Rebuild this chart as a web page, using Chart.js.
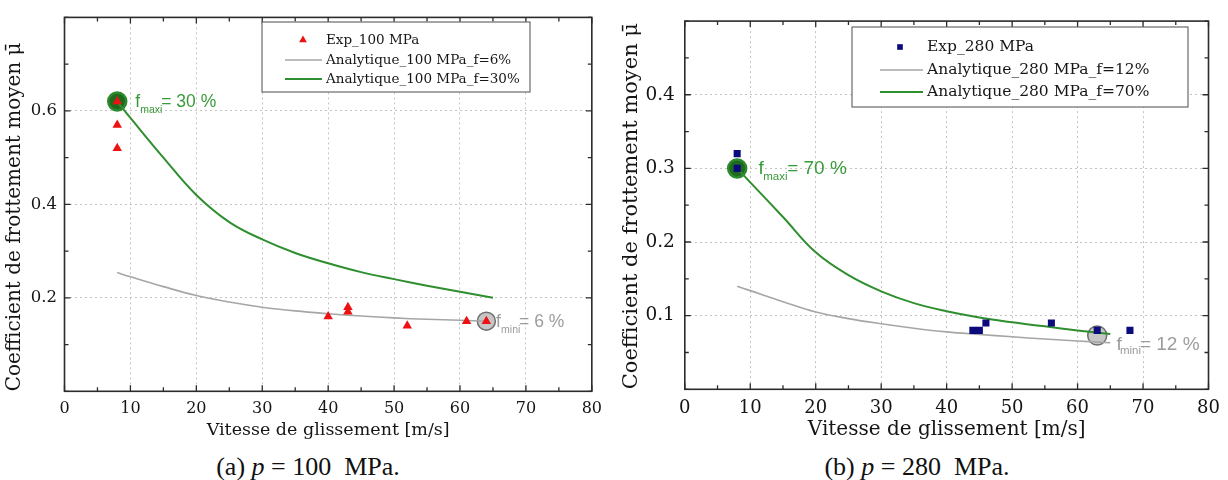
<!DOCTYPE html>
<html>
<head>
<meta charset="utf-8">
<script src="https://cdn.jsdelivr.net/npm/chart.js@4.4.1/dist/chart.umd.min.js"></script>
<style>
html,body{margin:0;padding:0;background:#fff;}
body{width:1228px;height:480px;position:relative;overflow:hidden;}
canvas{position:absolute;top:0;}
#cA{left:0;}
#cB{left:612px;}
.cap{position:absolute;top:452px;transform:translateX(-50%);font-family:'Liberation Serif','DejaVu Serif',serif;font-size:26px;color:#111;white-space:nowrap;line-height:30px;}
.cap i{font-style:italic;}
</style>
</head>
<body>
<canvas id="cA" width="610" height="450"></canvas>
<canvas id="cB" width="616" height="450"></canvas>
<div class="cap" style="left:308px">(a) <i>p</i>&nbsp;=&nbsp;100&nbsp; MPa.</div>
<div class="cap" style="left:917px">(b) <i>p</i>&nbsp;=&nbsp;280&nbsp; MPa.</div>
<script>
// ---------- Panel (a) : p = 100 MPa ----------
const speedExp100 = [8, 8, 8, 40, 43, 43, 52, 61, 64];
const muExp100    = [0.62, 0.57, 0.52, 0.16, 0.18, 0.17, 0.14, 0.15, 0.15];
const speedAna100f6  = [8, 10, 15, 20, 25, 30, 35, 40, 45, 50, 55, 60, 64];
const muAna100f6     = [0.254, 0.245, 0.224, 0.205, 0.191, 0.180, 0.172, 0.166, 0.161, 0.157, 0.154, 0.152, 0.150];
const speedAna100f30 = [8, 10, 15, 20, 25, 30, 35, 40, 45, 50, 55, 60, 65];
const muAna100f30    = [0.620, 0.585, 0.500, 0.420, 0.362, 0.325, 0.296, 0.274, 0.255, 0.240, 0.226, 0.213, 0.200];
const labels100 = ['Exp_100 MPa', 'Analytique_100 MPa_f=6%', 'Analytique_100 MPa_f=30%'];
const yTickLabels100 = [0.2, 0.4, 0.6];
const fMarks100 = [{x: 8, y: 0.62, kind: 'maxi', text: '= 30 %'}, {x: 64, y: 0.15, kind: 'mini', text: '= 6 %'}];

// ---------- Panel (b) : p = 280 MPa ----------
const speedExp280 = [8, 8, 44, 45, 46, 56, 63, 68];
const muExp280    = [0.32, 0.30, 0.08, 0.08, 0.09, 0.09, 0.08, 0.08];
const speedAna280f12 = [8, 10, 15, 20, 25, 30, 35, 40, 45, 50, 55, 60, 65];
const muAna280f12    = [0.140, 0.134, 0.119, 0.105, 0.096, 0.089, 0.083, 0.078, 0.0745, 0.0713, 0.0683, 0.0656, 0.0633];
const speedAna280f70 = [8, 10, 15, 20, 25, 30, 35, 40, 45, 50, 55, 60, 65];
const muAna280f70    = [0.300, 0.281, 0.234, 0.186, 0.155, 0.133, 0.117, 0.106, 0.0975, 0.091, 0.0855, 0.080, 0.075];
const labels280 = ['Exp_280 MPa', 'Analytique_280 MPa_f=12%', 'Analytique_280 MPa_f=70%'];
const yTickLabels280 = [0.1, 0.2, 0.3, 0.4];
const fMarks280 = [{x: 8, y: 0.30, kind: 'maxi', text: '= 70 %'}, {x: 63, y: 0.073, kind: 'mini', text: '= 12 %'}];

// ---------- shared axes ----------
const xTickLabels = [0, 10, 20, 30, 40, 50, 60, 70, 80];
const xGridValues = [10, 20, 30, 40, 50, 60, 70];
const xTitle = 'Vitesse de glissement [m/s]';
const yTitle = 'Coefficient de frottement moyen \u03BC\u0304';

const GREEN = '#2f8f2f', GREY = '#a6a6a6';
const near = (arr, v) => arr.some(a => Math.abs(a - v) < 1e-7);
const pts = (xs, ys) => xs.map((x, i) => ({x, y: ys[i]}));

// frame with inward ticks on all four sides
const frameTicks = {
  id: 'frameTicks',
  afterDatasetsDraw(chart, args, o) {
    const {ctx, chartArea: a, scales: {x, y}} = chart;
    ctx.save();
    ctx.strokeStyle = '#2b2b2b';
    ctx.lineWidth = 1.3;
    x.ticks.forEach(t => {
      const px = x.getPixelForValue(t.value);
      const L = (Math.abs(t.value % 10) < 1e-7) ? 6 : 4;
      ctx.beginPath();
      ctx.moveTo(px, a.bottom); ctx.lineTo(px, a.bottom - L);
      ctx.moveTo(px, a.top); ctx.lineTo(px, a.top + L);
      ctx.stroke();
    });
    y.ticks.forEach(t => {
      const py = y.getPixelForValue(t.value);
      const L = near(o.majorY, t.value) ? 6 : 4;
      ctx.beginPath();
      ctx.moveTo(a.left, py); ctx.lineTo(a.left + L, py);
      ctx.moveTo(a.right, py); ctx.lineTo(a.right - L, py);
      ctx.stroke();
    });
    ctx.lineWidth = 1.6;
    ctx.strokeRect(a.left, a.top, a.right - a.left, a.bottom - a.top);
    ctx.restore();
  }
};

// f_maxi / f_mini circles (under the data) and labels
const fMarks = {
  id: 'fMarks',
  beforeDatasetsDraw(chart, args, o) {
    const {ctx, scales: {x, y}} = chart;
    ctx.save();
    o.marks.forEach(m => {
      const px = x.getPixelForValue(m.x), py = y.getPixelForValue(m.y);
      const st = o[m.kind];
      ctx.beginPath();
      ctx.arc(px, py, st.r, 0, Math.PI * 2);
      ctx.fillStyle = st.fill; ctx.fill();
      ctx.lineWidth = st.lw; ctx.strokeStyle = st.stroke; ctx.stroke();
    });
    ctx.restore();
  },
  afterDatasetsDraw(chart, args, o) {
    const {ctx, scales: {x, y}} = chart;
    ctx.save();
    ctx.textBaseline = 'middle';
    ctx.textAlign = 'left';
    o.marks.forEach(m => {
      const px = x.getPixelForValue(m.x), py = y.getPixelForValue(m.y);
      const st = o[m.kind];
      ctx.fillStyle = st.color;
      ctx.font = st.size + 'px "Liberation Sans", Arial, sans-serif';
      ctx.fillText('f', px + st.fDx, py + st.dy);
      ctx.fillText(m.text, px + st.restDx, py + st.dy);
      ctx.font = st.subSize + 'px "Liberation Sans", Arial, sans-serif';
      ctx.fillText(m.kind, px + st.subDx, py + st.subDy);
    });
    ctx.restore();
  }
};

// boxed legend inside the plot
const boxLegend = {
  id: 'boxLegend',
  afterDraw(chart, args, o) {
    const ctx = chart.ctx;
    ctx.save();
    ctx.fillStyle = '#fff';
    ctx.fillRect(o.x, o.y, o.w, o.h);
    ctx.strokeStyle = '#6a6a6a'; ctx.lineWidth = 1.2;
    ctx.strokeRect(o.x, o.y, o.w, o.h);
    chart.data.datasets.forEach((ds, i) => {
      const cy = o.rows[i];
      if (ds.showLine) {
        ctx.strokeStyle = ds.borderColor; ctx.lineWidth = ds.borderWidth;
        ctx.beginPath(); ctx.moveTo(o.lineX1, cy); ctx.lineTo(o.lineX2, cy); ctx.stroke();
      } else {
        ctx.fillStyle = ds.backgroundColor;
        Chart.helpers.drawPoint(ctx, {pointStyle: ds.pointStyle, radius: o.markerR, borderWidth: 0, rotation: 0}, o.markerX, cy);
      }
      ctx.fillStyle = '#161616';
      ctx.font = o.font;
      ctx.textBaseline = 'middle';
      ctx.fillText(ds.label, o.textX, cy);
    });
    ctx.restore();
  }
};

function makeChart(id, c) {
  return new Chart(document.getElementById(id), {
    type: 'scatter',
    data: {
      datasets: [
        {label: c.labels[0], data: pts(c.ex, c.ey), showLine: false, pointStyle: c.expStyle,
         pointRadius: c.expR, backgroundColor: c.expColor, borderColor: c.expColor, borderWidth: 0},
        {label: c.labels[1], data: pts(c.lx, c.ly), showLine: true, pointRadius: 0, borderColor: GREY,
         borderWidth: 1.6, tension: 0.4, fill: false},
        {label: c.labels[2], data: pts(c.hx, c.hy), showLine: true, pointRadius: 0, borderColor: GREEN,
         borderWidth: 2, tension: 0.4, fill: false}
      ]
    },
    options: {
      responsive: false, animation: false, devicePixelRatio: 1,
      layout: {padding: {left: 0, top: c.padTop, right: c.padRight, bottom: 0}, autoPadding: false},
      plugins: {
        legend: {display: false}, tooltip: {enabled: false},
        frameTicks: {majorY: c.majorY},
        fMarks: c.marks,
        boxLegend: c.legend
      },
      scales: {
        x: {
          type: 'linear', min: 0, max: 80,
          ticks: {stepSize: 5, autoSkip: false, maxRotation: 0, padding: c.xTickPad, color: '#151515',
                  font: {family: 'DejaVu Serif', size: c.xTickSize},
                  callback: v => near(xTickLabels, v) ? String(Math.round(v)) : ''},
          grid: {drawTicks: false, lineWidth: 1,
                 color: ctx => (ctx.tick && near(xGridValues, ctx.tick.value)) ? '#c4c4c4' : 'rgba(0,0,0,0)'},
          border: {display: false, dash: [2, 3]},
          title: {display: true, text: xTitle, color: '#151515', font: {family: 'DejaVu Serif', size: c.xTitleSize},
                  padding: {top: 0, bottom: c.xTitlePadB}},
          afterFit: s => { s.height = c.xAxisH; }
        },
        y: {
          type: 'linear', min: 0, max: c.yMax,
          ticks: {stepSize: c.yStep, autoSkip: false, padding: c.yTickPad, color: '#151515',
                  font: {family: 'DejaVu Serif', size: c.yTickSize},
                  callback: v => near(c.yLabels, v) ? v.toFixed(1) : ''},
          grid: {drawTicks: false, lineWidth: 1,
                 color: ctx => (ctx.tick && near(c.yLabels, ctx.tick.value)) ? '#c4c4c4' : 'rgba(0,0,0,0)'},
          border: {display: false, dash: [2, 3]},
          title: {display: true, text: yTitle, align: 'start', color: '#151515',
                  font: {family: 'DejaVu Serif', size: c.yTitleSize},
                  padding: {top: c.yTitlePadT, bottom: 0}},
          afterFit: s => { s.width = c.yAxisW; }
        }
      }
    },
    plugins: [fMarks, frameTicks, boxLegend]
  });
}

makeChart('cA', {
  labels: labels100, ex: speedExp100, ey: muExp100, lx: speedAna100f6, ly: muAna100f6,
  hx: speedAna100f30, hy: muAna100f30,
  expStyle: 'triangle', expR: 5.5, expColor: '#ee1111',
  yMax: 0.8, yStep: 0.1, yLabels: yTickLabels100, majorY: yTickLabels100,
  padTop: 8.6, padRight: 12.5, yAxisW: 64.5, xAxisH: 58.7,
  xTickSize: 16, yTickSize: 16.5, xTickPad: 8, yTickPad: 7.5, xTitleSize: 17.5, xTitlePadB: 9.5,
  yTitleSize: 20, yTitlePadT: 3,
  marks: {
    marks: fMarks100,
    maxi: {r: 9, fill: '#1f6a1f', stroke: '#2c8a2c', lw: 2.5, color: '#3a9a3a', size: 17.5, subSize: 10.5,
           fDx: 18, subDx: 23, restDx: 44, dy: 0.5, subDy: 8.5},
    mini: {r: 9, fill: '#c6c6c6', stroke: '#6e6e6e', lw: 1.5, color: '#9c9c9c', size: 17.5, subSize: 10.5,
           fDx: 9.7, subDx: 14.7, restDx: 32.7, dy: 0.5, subDy: 8.5}
  },
  legend: {x: 262, y: 22, w: 268, h: 70, rows: [40, 60, 79], markerX: 303, markerR: 4.5,
           lineX1: 285, lineX2: 322, textX: 326, font: '13.5px "DejaVu Serif", serif'}
});

makeChart('cB', {
  labels: labels280, ex: speedExp280, ey: muExp280, lx: speedAna280f12, ly: muAna280f12,
  hx: speedAna280f70, hy: muAna280f70,
  expStyle: 'rect', expR: 5, expColor: '#0b0b7e',
  yMax: 0.5, yStep: 0.05, yLabels: yTickLabels280, majorY: yTickLabels280,
  padTop: 12.8, padRight: 19.5, yAxisW: 72.8, xAxisH: 60.7,
  xTickSize: 18, yTickSize: 18.5, xTickPad: 8, yTickPad: 10, xTitleSize: 20, xTitlePadB: 8,
  yTitleSize: 21, yTitlePadT: 7,
  marks: {
    marks: fMarks280,
    maxi: {r: 9, fill: '#1f6a1f', stroke: '#2c8a2c', lw: 2.5, color: '#3a9a3a', size: 19, subSize: 11.5,
           fDx: 21.3, subDx: 26, restDx: 50, dy: 0, subDy: 8},
    mini: {r: 9.5, fill: '#c6c6c6', stroke: '#6e6e6e', lw: 1.5, color: '#9c9c9c', size: 19, subSize: 11.5,
           fDx: 19.4, subDx: 22.7, restDx: 42.7, dy: 9.3, subDy: 15.5}
  },
  legend: {x: 240, y: 27, w: 336, h: 80, rows: [47, 70, 92], markerX: 288, markerR: 4,
           lineX1: 268, lineX2: 311, textX: 315, font: '15.5px "DejaVu Serif", serif'}
});
</script>
</body>
</html>
